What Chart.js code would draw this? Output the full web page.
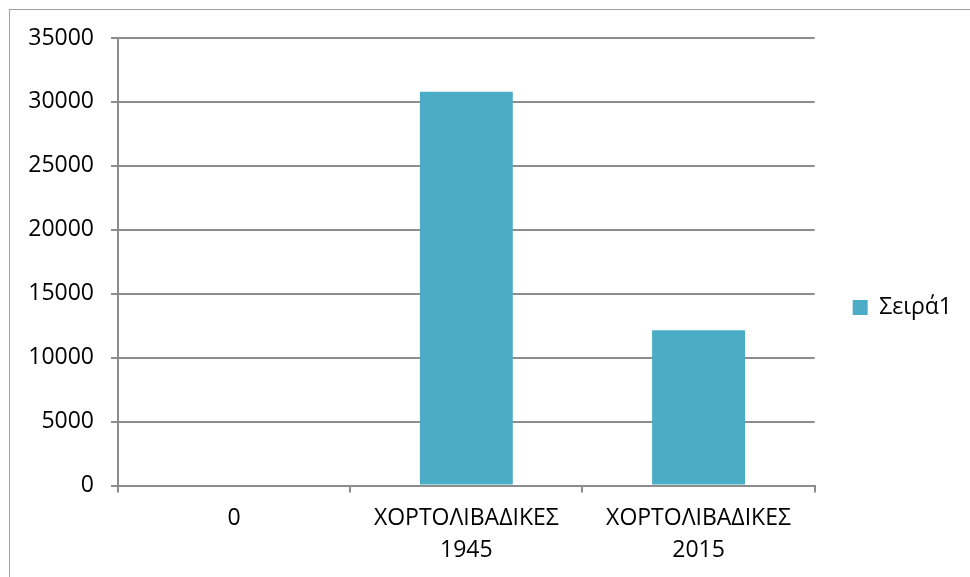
<!DOCTYPE html>
<html>
<head>
<meta charset="utf-8">
<script src="https://cdn.jsdelivr.net/npm/chart.js@4.4.0/dist/chart.umd.min.js"></script>
<style>
  html, body { margin: 0; padding: 0; background: #fff; }
  #frame {
    position: absolute; left: 9px; top: 9px; width: 970px; height: 577px;
    border-left: 1px solid #a0a0a0; border-top: 1px solid #a0a0a0;
  }
  #wrap { position: absolute; left: 0; top: 0; width: 970px; height: 577px; }
</style>
</head>
<body>
<div id="frame"></div>
<div id="wrap"><canvas id="chart"></canvas></div>
<script>
// Δεδομένα του γραφήματος
const categories = [['0'], ['ΧΟΡΤΟΛΙΒΑΔΙΚΕΣ', '1945'], ['ΧΟΡΤΟΛΙΒΑΔΙΚΕΣ', '2015']];
const seriesName = 'Σειρά1';
const seriesValues = [0, 30800, 12150];
const yTicks = [0, 5000, 10000, 15000, 20000, 25000, 30000, 35000];

const axisGrey = '#8c8c8c';
const barColor = '#4bacc6';
const font = { family: "'Open Sans', sans-serif", size: 23, lineHeight: 1.4 };

const ctx = document.getElementById('chart').getContext('2d');
new Chart(ctx, {
    type: 'bar',
    data: {
        labels: categories,
        datasets: [{
            label: seriesName,
            data: seriesValues,
            backgroundColor: barColor,
            borderWidth: 0,
            barPercentage: 0.4,
            categoryPercentage: 1
        }]
    },
    options: {
        responsive: true,
        maintainAspectRatio: false,
        animation: false,
        layout: { padding: { top: 38, right: 8, bottom: 0, left: 0 } },
        plugins: {
            tooltip: { enabled: false },
            legend: {
                position: 'right',
                labels: {
                    boxWidth: 15,
                    boxHeight: 15,
                    padding: 38,
                    color: '#000',
                    font: font
                }
            }
        },
        scales: {
            x: {
                grid: {
                    offset: true,
                    drawOnChartArea: false,
                    drawTicks: true,
                    tickLength: 7,
                    color: axisGrey,
                    lineWidth: 2
                },
                border: { color: axisGrey, width: 2 },
                ticks: { color: '#000', font: font, padding: 10, maxRotation: 0 }
            },
            y: {
                min: 0,
                max: yTicks[yTicks.length - 1],
                afterBuildTicks: (axis) => { axis.ticks = yTicks.map(v => ({ value: v })); },
                afterFit: (axis) => { axis.width = 118; },
                grid: { color: axisGrey, lineWidth: 2, tickLength: 7 },
                border: { color: axisGrey, width: 2 },
                ticks: { color: '#000', font: font, padding: 17, callback: (v) => String(v) }
            }
        }
    }
});
</script>
</body>
</html>
